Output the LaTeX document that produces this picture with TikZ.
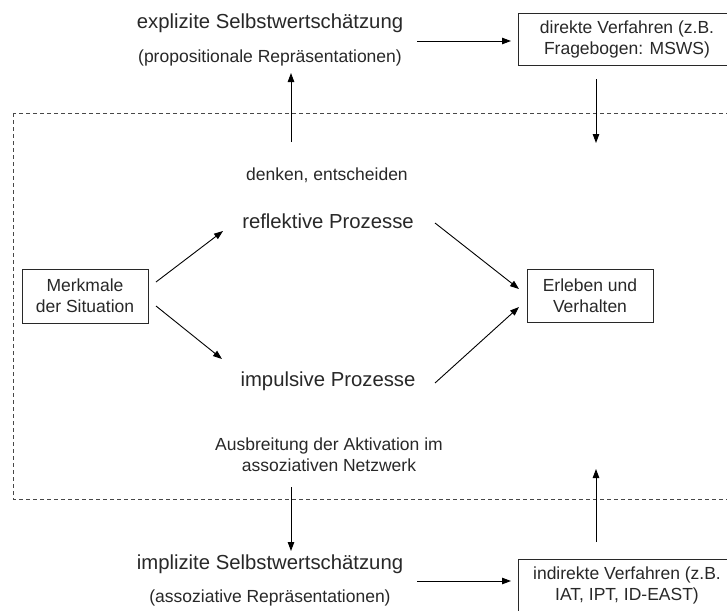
\documentclass[tikz,border=0pt]{standalone}
\usepackage{fontspec}
\setmainfont{Liberation Sans}
\usetikzlibrary{arrows.meta}
\newcommand\txtsmall{\fontsize{17.5}{21}\selectfont}
\newcommand\txtlarge{\fontsize{20.3}{24}\selectfont}
\definecolor{ink}{RGB}{40,40,40}
\begin{document}
\begin{tikzpicture}[x=1pt,y=-1pt,
  box/.style={draw=ink, line width=0.8pt, align=center, inner sep=0pt, font=\txtsmall, text=ink},
  lbl/.style={align=center, inner sep=0pt, text=ink},
  arr/.style={-{Triangle[length=9pt,width=6.5pt]}, line width=0.9pt, black},
  dashbox/.style={draw=ink!85, line width=0.7pt, dash pattern=on 4pt off 3pt}]
\clip (0,0) rectangle (727,610);
\fill[white] (0,0) rectangle (727,610);
% dashed frame
\draw[dashbox] (13,113) rectangle (745,499);
% texts
\node[lbl, font=\txtlarge] (expl) at (270,23) {explizite Selbstwertschätzung};
\node[lbl, font=\txtsmall] (prop) at (270,58) {(propositionale Repräsentationen)};
\node[lbl, font=\txtsmall] (denk) at (327,175) {denken, entscheiden};
\node[lbl, font=\txtlarge] (refl) at (328,221) {reflektive Prozesse};
\node[lbl, font=\txtlarge] (impu) at (328,381) {impulsive Prozesse};
\node[lbl, font=\txtsmall, align=center] (ausb) at (329,455) {\fontsize{17.5}{20.5}\selectfont Ausbreitung der Aktivation im\\assoziativen Netzwerk};
\node[lbl, font=\txtlarge] (impl) at (270,564) {implizite Selbstwertschätzung};
\node[lbl, font=\txtsmall] (asso) at (270,598) {(assoziative Repräsentationen)};
% boxes
\node[box, minimum width=126pt, minimum height=54pt] (merk) at (85,296) {Merkmale\\der Situation};
\node[box, minimum width=126pt, minimum height=53pt] (erle) at (590,295.5) {Erleben und\\Verhalten};
\node[box, minimum width=218pt, minimum height=52pt] (dir) at (627,39) {direkte Verfahren (z.B.\\Fragebogen: MSWS)};
\node[box, minimum width=218pt, minimum height=52pt] (ind) at (627,585) {indirekte Verfahren (z.B.\\IAT, IPT, ID-EAST)};
% connector end points
\coordinate (a1s) at (417,41);   \coordinate (a1e) at (511,41);
\coordinate (a2s) at (291,142);  \coordinate (a2e) at (291,73);
\coordinate (a3s) at (596,79);   \coordinate (a3e) at (596,143);
\coordinate (a4s) at (156,282);  \coordinate (a4e) at (223,231);
\coordinate (a5s) at (156,306);  \coordinate (a5e) at (222,359);
\coordinate (a6s) at (435,223);  \coordinate (a6e) at (519,289);
\coordinate (a7s) at (435,383);  \coordinate (a7e) at (519,307);
\coordinate (a8s) at (291,487);  \coordinate (a8e) at (291,551);
\coordinate (a9s) at (596,542);  \coordinate (a9e) at (596,469);
\coordinate (a10s) at (417,581); \coordinate (a10e) at (511,581);
\draw[arr] (a1s) -- (a1e);
\draw[arr] (a2s) -- (a2e);
\draw[arr] (a3s) -- (a3e);
\draw[arr] (a4s) -- (a4e);
\draw[arr] (a5s) -- (a5e);
\draw[arr] (a6s) -- (a6e);
\draw[arr] (a7s) -- (a7e);
\draw[arr] (a8s) -- (a8e);
\draw[arr] (a9s) -- (a9e);
\draw[arr] (a10s) -- (a10e);
\end{tikzpicture}
\end{document}
